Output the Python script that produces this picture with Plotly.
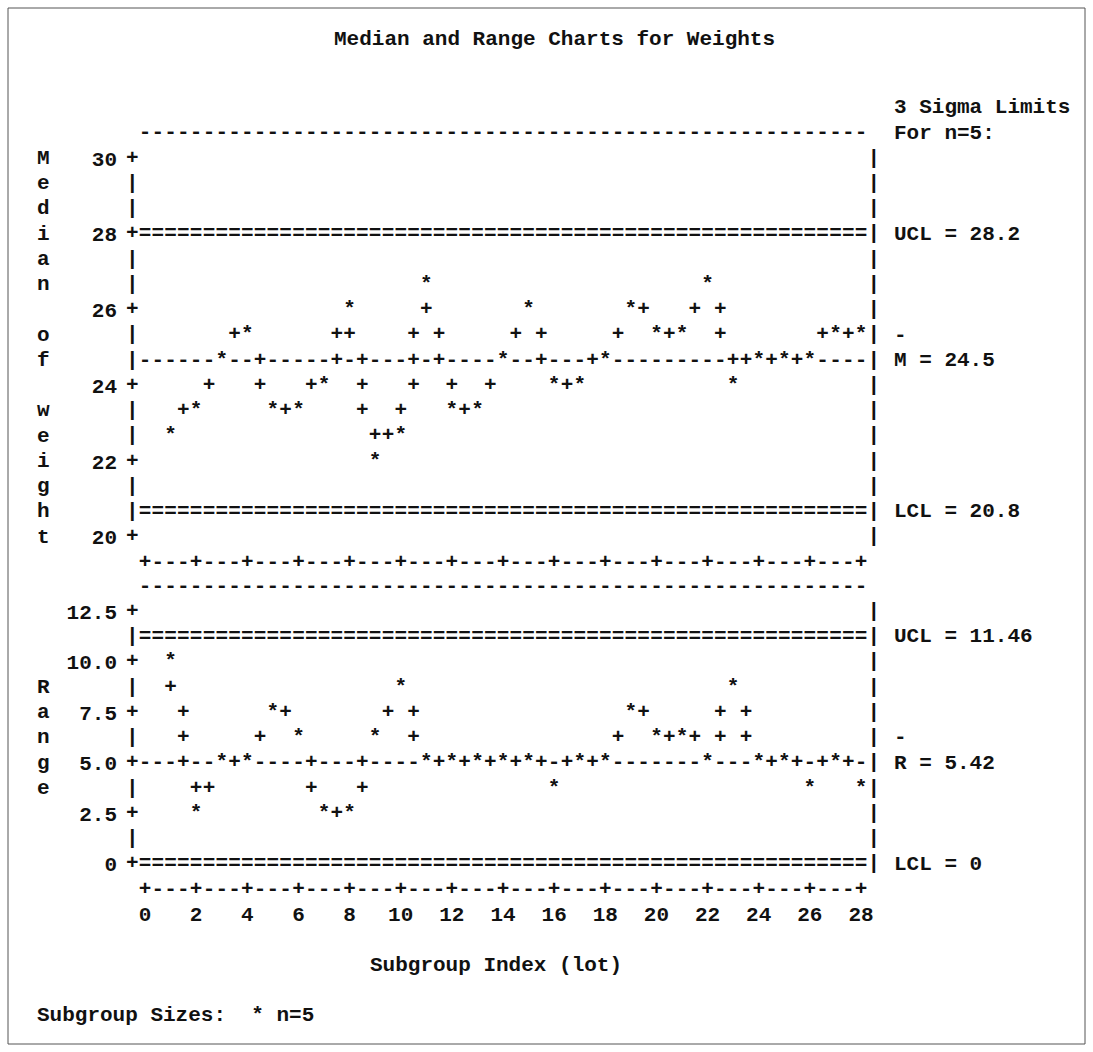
import math
import plotly.graph_objects as go

# ---------------- data ----------------
subgroups = list(range(1, 29))
medians = [22.7, 23.3, 24.7, 25.3, 23.3, 23.3, 24.0, 26.0, 22.0, 22.7,
           26.7, 23.3, 23.3, 24.7, 26.0, 24.0, 24.0, 24.7, 26.0, 25.3,
           25.3, 26.7, 24.0, 24.7, 24.7, 24.7, 25.3, 25.3]
ranges = [10.0, 2.5, 5.0, 5.0, 7.5, 6.25, 2.5, 2.5, 6.25, 8.75,
          5.0, 5.0, 5.0, 5.0, 5.0, 3.75, 5.0, 5.0, 7.5, 6.25,
          6.25, 5.0, 8.75, 5.0, 5.0, 3.75, 5.0, 3.75]

median_ucl, median_center, median_lcl = 28.2, 24.5, 20.8
range_ucl, range_center, range_lcl = 11.46, 5.42, 0.0

median_ticks = [20, 22, 24, 26, 28, 30]
median_ticktext = ["20", "22", "24", "26", "28", "30"]
range_ticks = [0, 2.5, 5.0, 7.5, 10.0, 12.5]
range_ticktext = ["0", "2.5", "5.0", "7.5", "10.0", "12.5"]
x_ticks = list(range(0, 29, 2))
x_ticktext = [str(t) for t in x_ticks]

title_text = "Median and Range Charts for Weights"
xaxis_title = "Subgroup Index (lot)"
footer_text = "Subgroup Sizes:\u00a0\u00a0*\u00a0n=5"

# ---------------- page geometry (line-printer grid) ----------------
W, H = 1093, 1052
CW = 12.786          # character width in px
RH = 25.25           # row height in px
X0 = 145.0           # px of x = 0
MED_R0 = 537.0       # px of median row 0 (value 20)
RNG_R0 = 864.0       # px of range row 0 (value 0)

FONT = "Liberation Mono, Courier New, monospace"
FS = 21
INK = "#111111"

MED = dict(base=20.0, rpu=1.5, rmax=15, tick_every=3)
RNG = dict(base=0.0, rpu=0.8, rmax=10, tick_every=2)


def row_of(v, ch):
    return int(math.floor((v - ch["base"]) * ch["rpu"] + 0.5))


def val_of(r, ch):
    return ch["base"] + r / ch["rpu"]


def seg_cells(c0, r0, c1, r1):
    out = []
    dc, dr = c1 - c0, r1 - r0
    if abs(dr) > abs(dc):
        step = 1 if dr > 0 else -1
        for r in range(r0 + step, r1, step):
            out.append((int(math.floor(c0 + (r - r0) * dc / dr + 0.5)), r))
    else:
        for c in range(c0 + 1, c1):
            out.append((c, int(math.floor(r0 + (c - c0) * dr / dc + 0.5))))
    return out


def build(values, ch, ucl, center, lcl):
    pts = [(2 * x, row_of(v, ch)) for x, v in zip(subgroups, values)]
    stars = set(pts)
    plus = set()
    for (c0, r0), (c1, r1) in zip(pts[:-1], pts[1:]):
        for cell in seg_cells(c0, r0, c1, r1):
            if cell not in stars:
                plus.add(cell)
    lines = {}
    for c in range(0, 57):
        lines[(c, row_of(ucl, ch))] = "="
        lines[(c, row_of(lcl, ch))] = "="
        lines[(c, row_of(center, ch))] = "-"
    # frame: left axis, right border, top border, bottom axis
    for r in range(0, ch["rmax"] + 1):
        lines[(-1, r)] = "+" if r % ch["tick_every"] == 0 else "|"
        lines[(57, r)] = "|"
    for c in range(0, 57):
        lines[(c, ch["rmax"] + 1)] = "-"
        lines[(c, -1)] = "+" if c % 4 == 0 else "-"
    line_cells = [(k, t) for k, t in lines.items() if k not in stars and k not in plus]
    return stars, sorted(plus), line_cells


fig = go.Figure()


def add_chart(values, ch, ucl, center, lcl, yref):
    stars, plus, line_cells = build(values, ch, ucl, center, lcl)
    tf = dict(family=FONT, size=FS, color=INK, weight=700)
    fig.add_trace(go.Scatter(
        x=[c / 2 for (c, r), t in line_cells],
        y=[val_of(r, ch) for (c, r), t in line_cells],
        text=[t for k, t in line_cells], mode="text", textposition="middle center",
        textfont=tf, yaxis=yref, hoverinfo="skip", showlegend=False))
    fig.add_trace(go.Scatter(
        x=[c / 2 for c, r in plus], y=[val_of(r, ch) for c, r in plus],
        text=["+"] * len(plus), mode="text", textposition="middle center",
        textfont=tf, yaxis=yref, hoverinfo="skip", showlegend=False))
    fig.add_trace(go.Scatter(
        x=subgroups, y=[val_of(row_of(v, ch), ch) for v in values],
        text=["*"] * len(values), mode="text", textposition="middle center",
        textfont=tf, yaxis=yref, showlegend=False,
        hovertemplate="Subgroup %{x}<br>%{customdata}<extra></extra>",
        customdata=values))


add_chart(medians, MED, median_ucl, median_center, median_lcl, "y")
add_chart(ranges, RNG, range_ucl, range_center, range_lcl, "y2")

annots = []
afont = dict(family=FONT, size=FS, color=INK, weight=700)


def txt(x, y, s, yref="y", xanchor="left", xref="x"):
    annots.append(dict(x=x, y=y, xref=xref, yref=yref, text=s, showarrow=False,
                       xanchor=xanchor, yanchor="middle", font=afont, borderpad=0))


LEFT = lambda col: col / 2 - 0.25  # left edge of a character column, in x units

# right-hand limit labels
txt(LEFT(59), val_of(row_of(median_ucl, MED), MED), f"UCL = {median_ucl}")
txt(LEFT(59), val_of(row_of(median_center, MED) + 1, MED), "-")
txt(LEFT(59), val_of(row_of(median_center, MED), MED), f"M = {median_center}")
txt(LEFT(59), val_of(row_of(median_lcl, MED), MED), f"LCL = {median_lcl}")
txt(LEFT(59), val_of(row_of(range_ucl, RNG), RNG), f"UCL = {range_ucl}", "y2")
txt(LEFT(59), val_of(row_of(range_center, RNG) + 1, RNG), "-", "y2")
txt(LEFT(59), val_of(row_of(range_center, RNG), RNG), f"R = {range_center}", "y2")
txt(LEFT(59), val_of(row_of(range_lcl, RNG), RNG), "LCL = 0", "y2")
txt(LEFT(59), val_of(17, MED), "3 Sigma Limits")
txt(LEFT(59), val_of(16, MED), "For n=5:")

# vertical axis titles (one letter per row)
for i, chv in enumerate("Median of weight"):
    if chv != " ":
        txt(LEFT(-8), val_of(15 - i, MED), chv)
for i, chv in enumerate("Range"):
    txt(LEFT(-8), val_of(7 - i, RNG), chv, "y2")

# title, x-axis title, footer
annots.append(dict(x=16, y=1 - 40 / H, xref="x", yref="paper", text=title_text,
                   showarrow=False, xanchor="center", yanchor="middle", font=afont))
txt(LEFT(18), val_of(-4, RNG), xaxis_title, "y2")
txt(LEFT(-8), val_of(-6, RNG), footer_text, "y2")

# axis ranges mapping the grid to page pixels
xr = [-X0 / (2 * CW), (W - X0) / (2 * CW)]
med_r = [val_of((MED_R0 - H) / RH, MED), val_of(MED_R0 / RH, MED)]
rng_r = [val_of((RNG_R0 - H) / RH, RNG), val_of(RNG_R0 / RH, RNG)]

tickfont = dict(family=FONT, size=FS, color=INK, weight=700)
fig.update_layout(
    width=W, height=H, margin=dict(l=0, r=0, t=0, b=0),
    paper_bgcolor="white", plot_bgcolor="white", showlegend=False,
    annotations=annots,
    xaxis=dict(domain=[0, 1], range=xr, showgrid=False, zeroline=False, showline=False,
               ticks="", tickmode="array", tickvals=x_ticks, ticktext=x_ticktext,
               tickfont=tickfont, anchor="free", position=1 - 899 / H, fixedrange=True),
    yaxis=dict(domain=[0, 1], range=med_r, showgrid=False, zeroline=False, showline=False,
               ticks="", tickmode="array", tickvals=median_ticks, ticktext=median_ticktext,
               tickfont=tickfont, anchor="free", position=117 / W, fixedrange=True),
    yaxis2=dict(domain=[0, 1], range=rng_r, showgrid=False, zeroline=False, showline=False,
                ticks="", tickmode="array", tickvals=range_ticks, ticktext=range_ticktext,
                tickfont=tickfont, anchor="free", position=117 / W, overlaying="y",
                fixedrange=True),
    shapes=[dict(type="rect", xref="paper", yref="paper", x0=8 / W, x1=1085 / W,
                 y0=1 - 1044 / H, y1=1 - 8 / H, line=dict(color="#555555", width=1))],
)

fig.write_html("out.html", config={"displayModeBar": False},
               post_script="document.body.style.margin='0';document.body.style.overflow='hidden';")
